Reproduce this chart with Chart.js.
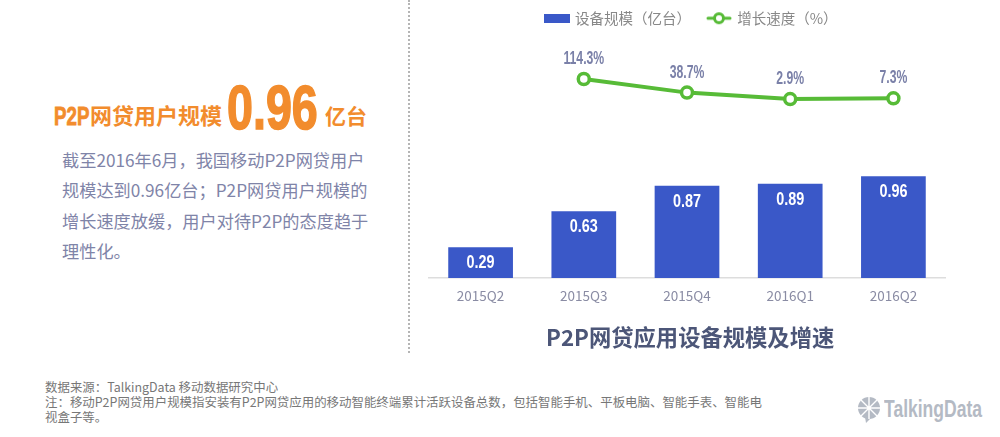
<!DOCTYPE html>
<html>
<head>
<meta charset="utf-8">
<script src="https://cdn.jsdelivr.net/npm/chart.js@4"></script>
<style>
  html, body { margin: 0; padding: 0; background: #fff; }
  body { width: 1000px; height: 437px; position: relative; overflow: hidden; font-family: "Noto Sans CJK SC", sans-serif; }
  .abs { position: absolute; white-space: nowrap; }
  #divider { left: 408px; top: 0; height: 353px; border-left: 2px dotted #b5b5b5; }
  #chart-wrap { position: absolute; left: 420px; top: 0; width: 534px; height: 360px; }
  .head { color: #f28c2d; font-weight: 700; line-height: 1; }
  .narrow { font-family: "Liberation Sans", sans-serif; font-weight: 700; transform-origin: left top; }
  .body-line { left: 62px; font-size: 17.2px; line-height: 20px; color: #7f84a8; }
  .note { left: 45px; font-size: 12.45px; line-height: 15px; color: #777; }
</style>
</head>
<body>
<div class="abs head narrow" style="left:54px;top:103px;font-size:26px;transform:scaleX(0.72);-webkit-text-stroke:0.8px #f28c2d;">P2P</div>
<div class="abs head" style="left:90px;top:103px;font-size:22px;">网贷用户规模</div>
<div class="abs head narrow" style="left:227px;top:76px;font-size:63px;transform:scaleX(0.74);-webkit-text-stroke:1.6px #f28c2d;">0.96</div>
<div class="abs head" style="left:325px;top:105px;font-size:21px;">亿台</div>

<div class="abs body-line" style="top:150px;">截至2016年6月，我国移动P2P网贷用户</div>
<div class="abs body-line" style="top:180px;">规模达到0.96亿台；P2P网贷用户规模的</div>
<div class="abs body-line" style="top:211px;">增长速度放缓，用户对待P2P的态度趋于</div>
<div class="abs body-line" style="top:241px;">理性化。</div>

<div class="abs" id="divider"></div>
<div id="chart-wrap"><canvas id="chart"></canvas></div>

<div class="abs note" style="top:380px;">数据来源：TalkingData 移动数据研究中心</div>
<div class="abs note" style="top:395px;">注：移动P2P网贷用户规模指安装有P2P网贷应用的移动智能终端累计活跃设备总数，包括智能手机、平板电脑、智能手表、智能电</div>
<div class="abs note" style="top:410px;">视盒子等。</div>

<svg class="abs" style="left:857px;top:397px;" width="24" height="26" viewBox="0 0 24 26">
  <circle cx="12" cy="11" r="11" fill="#b4bac4"/>
  <path d="M8 20 L9 26 L15 20 Z" fill="#b4bac4"/>
  <path d="M12 0 V22 M1 11 H23 M4 3 L20 19 M20 3 L4 19" stroke="#fff" stroke-width="1.4"/>
</svg>
<div class="abs narrow" style="left:884px;top:396px;font-size:24px;line-height:26px;color:#b4bac4;transform:scaleX(0.73);">TalkingData</div>

<script>
const categories = ['2015Q2', '2015Q3', '2015Q4', '2016Q1', '2016Q2'];
const deviceScale = [0.29, 0.63, 0.87, 0.89, 0.96];
const growthRate = [null, 114.3, 38.7, 2.9, 7.3];

const BAR_COLOR = '#3a58c8';
const LINE_COLOR = '#57bb37';
const BASELINE_Y = 278;     // низ области графика на странице
const PX_PER_UNIT = 106;    // пикселей на 1 млрд устройств
const PX_PER_PERCENT = 0.18;
const LINE_POINT_Y = 79;    // где стоит точка 114.3%

// Значки легенды
function barIcon() {
    const c = document.createElement('canvas');
    c.width = 26; c.height = 9;
    const g = c.getContext('2d');
    g.fillStyle = BAR_COLOR;
    g.fillRect(0, 0, 26, 9);
    return c;
}
function lineIcon() {
    const c = document.createElement('canvas');
    c.width = 26; c.height = 14;
    const g = c.getContext('2d');
    g.strokeStyle = LINE_COLOR;
    g.lineWidth = 3;
    g.lineCap = 'round';
    g.beginPath(); g.moveTo(2, 7); g.lineTo(24, 7); g.stroke();
    g.fillStyle = '#fff';
    g.beginPath(); g.arc(13, 7, 4.5, 0, Math.PI * 2); g.fill(); g.stroke();
    return c;
}

// Узкие подписи: обычный жирный шрифт, сжатый по ширине
function narrowText(ctx, text, x, y, squeeze) {
    ctx.save();
    ctx.translate(x, y);
    ctx.scale(squeeze, 1);
    ctx.fillText(text, 0, 0);
    ctx.restore();
}

// Подписи значений
const valueLabels = {
    id: 'valueLabels',
    afterLayout(chart) {
        // заголовок и легенда в оригинале чуть правее центра
        chart.titleBlock.left += 9;
        chart.legend.left += 12;
    },
    afterDatasetsDraw(chart) {
        const ctx = chart.ctx;
        ctx.save();
        ctx.textAlign = 'center';
        ctx.textBaseline = 'middle';
        ctx.font = 'bold 18px "Liberation Sans", sans-serif';
        chart.getDatasetMeta(0).data.forEach((bar, i) => {
            ctx.fillStyle = '#fff';
            narrowText(ctx, deviceScale[i].toFixed(2), bar.x, bar.y + 16, 0.8);
        });
        chart.getDatasetMeta(1).data.forEach((pt, i) => {
            if (growthRate[i] === null) return;
            ctx.fillStyle = '#7a80a8';
            narrowText(ctx, growthRate[i] + '%', pt.x, pt.y - 20, 0.68);
        });
        ctx.restore();
    }
};

const chart = new Chart(document.getElementById('chart'), {
    type: 'bar',
    data: {
        labels: categories,
        datasets: [
            {
                label: '设备规模（亿台）',
                data: deviceScale,
                backgroundColor: BAR_COLOR,
                yAxisID: 'y',
                barPercentage: 1,
                categoryPercentage: 0.627
            },
            {
                type: 'line',
                label: '增长速度（%）',
                data: growthRate,
                borderColor: LINE_COLOR,
                borderWidth: 4,
                pointRadius: 5.5,
                pointBorderWidth: 3.5,
                pointBackgroundColor: '#fff',
                pointBorderColor: LINE_COLOR,
                yAxisID: 'y2'
            }
        ]
    },
    plugins: [valueLabels],
    options: {
        responsive: true,
        maintainAspectRatio: false,
        animation: false,
        layout: { padding: { left: 6.3, right: 9, top: -6, bottom: 10 } },
        plugins: {
            tooltip: { enabled: false },
            legend: {
                position: 'top',
                labels: {
                    usePointStyle: true,
                    pointStyleWidth: 22,
                    padding: 17,
                    color: '#888',
                    font: { size: 14.5, family: '"Noto Sans CJK SC"' },
                    generateLabels(c) {
                        const items = Chart.defaults.plugins.legend.labels.generateLabels(c);
                        items[0].pointStyle = barIcon();
                        items[1].pointStyle = lineIcon();
                        return items;
                    }
                }
            },
            title: {
                display: true,
                position: 'bottom',
                text: 'P2P网贷应用设备规模及增速',
                color: '#4c5678',
                font: { size: 22.3, weight: 'bold', family: '"Noto Sans CJK SC"' },
                padding: { top: 10, bottom: 0 }
            }
        },
        scales: {
            x: {
                grid: { display: false, drawTicks: false },
                border: { color: '#ddd', width: 1.5 },
                ticks: { color: '#8a8ca4', font: { size: 13.5, family: '"Noto Sans CJK SC"' }, padding: 10 }
            },
            y: { display: false, min: 0, max: 2.2 },
            y2: { display: false, min: -1000, max: 330 }
        }
    }
});

// Подгоняем область графика: низ на базовой линии, масштабы по пикселям
chart.options.layout.padding.bottom += chart.chartArea.bottom - BASELINE_Y;
chart.update();
const area = chart.chartArea;
const y2Top = 114.3 + (LINE_POINT_Y - area.top) / PX_PER_PERCENT;
chart.options.scales.y.max = area.height / PX_PER_UNIT;
chart.options.scales.y2.max = y2Top;
chart.options.scales.y2.min = y2Top - area.height / PX_PER_PERCENT;
chart.update();
</script>
</body>
</html>
